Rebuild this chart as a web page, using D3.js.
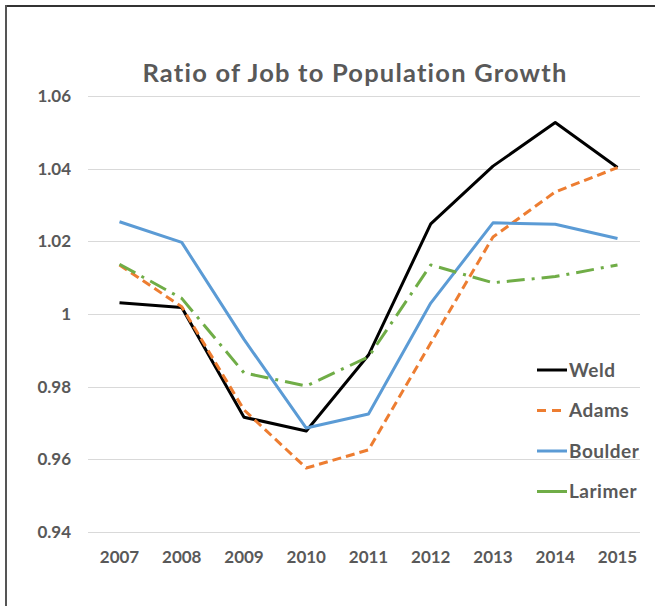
<!DOCTYPE html>
<html lang="en">
<head>
    <meta charset="UTF-8">
    <title>Ratio of Job to Population Growth</title>
    <script src="https://d3js.org/d3.v7.min.js"></script>
    <style>
        body { margin: 0; background: #fff; }
        text { font-family: Lato, "Open Sans", sans-serif; font-weight: bold; fill: #595959; }
    </style>
</head>
<body>
    <svg id="chart" width="655" height="606"></svg>

    <script>
        // Chart data
        const years = ["2007", "2008", "2009", "2010", "2011", "2012", "2013", "2014", "2015"];
        const weld    = [1.0031, 1.0018, 0.9716, 0.9678, 0.9887, 1.0248, 1.0407, 1.0527, 1.0403];
        const adams   = [1.0135, 1.0020, 0.9736, 0.9576, 0.9626, 0.9920, 1.0212, 1.0336, 1.0403];
        const boulder = [1.0254, 1.0197, 0.9930, 0.9686, 0.9725, 1.0030, 1.0251, 1.0247, 1.0208];
        const larimer = [1.0137, 1.0043, 0.9838, 0.9802, 0.9882, 1.0135, 1.0086, 1.0103, 1.0135];
        const yTicks = [0.94, 0.96, 0.98, 1.00, 1.02, 1.04, 1.06];
        const seriesNames = ["Weld", "Adams", "Boulder", "Larimer"];

        const series = [
            { name: seriesNames[0], values: weld,    color: "#000000", dash: null },
            { name: seriesNames[1], values: adams,   color: "#ED7D31", dash: "9,5" },
            { name: seriesNames[2], values: boulder, color: "#5B9BD5", dash: null },
            { name: seriesNames[3], values: larimer, color: "#70AD47", dash: "18,7,3,7" }
        ];

        const svg = d3.select("#chart");

        // outer frame (only top and left edges visible)
        svg.append("line").attr("x1", 5).attr("x2", 655).attr("y1", 6).attr("y2", 6)
            .attr("stroke", "#333").attr("stroke-width", 2);
        svg.append("line").attr("x1", 6).attr("x2", 6).attr("y1", 5).attr("y2", 606)
            .attr("stroke", "#555").attr("stroke-width", 2);

        // scales
        const x = d3.scalePoint().domain(years).range([119.5, 617.5]);
        const y = d3.scaleLinear().domain([0.94, 1.06]).range([532, 96]);
        const gridLeft = 88, gridRight = 640;

        // gridlines
        svg.append("g").selectAll("line")
            .data(yTicks)
            .join("line")
            .attr("x1", gridLeft).attr("x2", gridRight)
            .attr("y1", d => Math.round(y(d)) + 0.5).attr("y2", d => Math.round(y(d)) + 0.5)
            .attr("stroke", "#D9D9D9").attr("stroke-width", 1);

        // y axis labels
        svg.append("g").selectAll("text")
            .data(yTicks)
            .join("text")
            .attr("x", 71)
            .attr("y", d => y(d))
            .attr("dy", "0.36em")
            .attr("text-anchor", "end")
            .style("font-size", "17px")
            .text(d => d === 1 ? "1" : d3.format(".2f")(d));

        // x axis labels
        svg.append("g").selectAll("text")
            .data(years)
            .join("text")
            .attr("x", d => x(d))
            .attr("y", 563)
            .attr("text-anchor", "middle")
            .style("font-size", "17px")
            .text(d => d);

        // title
        svg.append("text")
            .attr("x", 355)
            .attr("y", 82)
            .attr("text-anchor", "middle")
            .style("font-size", "25.5px")
            .style("letter-spacing", "1.2px")
            .text("Ratio of Job to Population Growth");

        // lines
        const line = d3.line()
            .x((d, i) => x(years[i]))
            .y(d => y(d));

        svg.append("g").selectAll("path")
            .data(series)
            .join("path")
            .attr("d", d => line(d.values))
            .attr("fill", "none")
            .attr("stroke", d => d.color)
            .attr("stroke-width", 3)
            .attr("stroke-dasharray", d => d.dash)
            .attr("stroke-linejoin", "round");

        // legend
        const legend = svg.append("g").selectAll("g")
            .data(series)
            .join("g")
            .attr("transform", (d, i) => `translate(537, ${370 + i * 40.5})`);

        legend.append("line")
            .attr("x1", 0).attr("x2", 30)
            .attr("y1", 0).attr("y2", 0)
            .attr("stroke", d => d.color)
            .attr("stroke-width", 3)
            .attr("stroke-dasharray", d => d.name === "Adams" ? "9,6" : null);

        legend.append("text")
            .attr("x", 32)
            .attr("y", 0)
            .attr("dy", "0.36em")
            .style("font-size", "19px")
            .style("letter-spacing", "0.5px")
            .text(d => d.name);
    </script>
</body>
</html>
